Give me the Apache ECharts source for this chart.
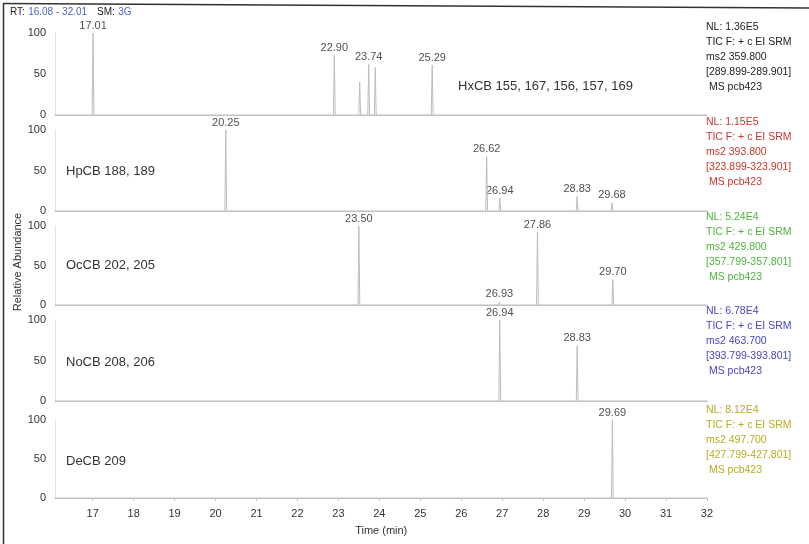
<!DOCTYPE html>
<html>
<head>
<meta charset="utf-8">
<script src="https://cdn.jsdelivr.net/npm/echarts@6/dist/echarts.min.js"></script>
<style>html,body{margin:0;padding:0;background:#fff}#c{width:809px;height:544px}</style>
</head>
<body>
<div id="c"></div>
<script>
const xMin = 16.08, xMax = 32.01;
const xTicks = [17,18,19,20,21,22,23,24,25,26,27,28,29,30,31,32];

const times1 = [17.01, 22.90, 23.52, 23.74, 23.90, 25.29];
const heights1 = [100, 73, 40, 62, 58, 61];
const labels1 = ["17.01", "22.90", "", "23.74", "", "25.29"];

const times2 = [20.25, 26.62, 26.94, 28.83, 29.68];
const heights2 = [100, 67, 16, 18, 10];
const labels2 = ["20.25", "26.62", "26.94", "28.83", "29.68"];

const times3 = [23.50, 26.93, 27.86, 29.70];
const heights3 = [100, 4, 92, 32];
const labels3 = ["23.50", "26.93", "27.86", "29.70"];

const times4 = [26.94, 28.83];
const heights4 = [100, 68];
const labels4 = ["26.94", "28.83"];

const times5 = [29.69];
const heights5 = [100];
const labels5 = ["29.69"];

const compounds = ["HxCB 155, 167, 156, 157, 169", "HpCB 188, 189", "OcCB 202, 205", "NoCB 208, 206", "DeCB 209"];
const nlValues = ["1.36E5", "1.15E5", "5.24E4", "6.78E4", "8.12E4"];
const ms2Values = ["359.800", "393.800", "429.800", "463.700", "497.700"];
const ranges = ["[289.899-289.901]", "[323.899-323.901]", "[357.799-357.801]", "[393.799-393.801]", "[427.799-427.801]"];
const infoColors = ["#222222", "#c8372d", "#4fb33a", "#4646c8", "#b5ad1e"];

const panels = [
  {t: times1, h: heights1, l: labels1},
  {t: times2, h: heights2, l: labels2},
  {t: times3, h: heights3, l: labels3},
  {t: times4, h: heights4, l: labels4},
  {t: times5, h: heights5, l: labels5}
];

// layout (pixels)
const gridTops = [33, 130, 226, 320, 420];
const gridBottoms = [115, 211, 305, 401, 498];
const gridLeft = 55, gridRight = 101.6;

const halfW = 0.022;
function buildLine(p) {
  const d = [[xMin, 0]];
  const idx = p.t.map((v, i) => i).sort((a, b) => p.t[a] - p.t[b]);
  idx.forEach(i => {
    d.push([p.t[i] - halfW, 0]);
    d.push([p.t[i], p.h[i]]);
    d.push([p.t[i] + halfW, 0]);
  });
  d.push([xMax, 0]);
  return d;
}

const grid = [], xAxis = [], yAxis = [], series = [];
panels.forEach((p, k) => {
  grid.push({left: gridLeft, right: gridRight, top: gridTops[k], height: gridBottoms[k] - gridTops[k]});
  const last = k === panels.length - 1;
  xAxis.push({
    type: 'value', gridIndex: k, min: xMin, max: xMax,
    axisLine: {show: true, onZero: false, lineStyle: {color: '#c4c4c4', width: 1}},
    axisTick: {show: last, customValues: xTicks, length: 3, lineStyle: {color: '#c4c4c4'}},
    minorTick: {show: false},
    splitLine: {show: false},
    axisLabel: {show: last, customValues: xTicks, color: '#333', fontSize: 11, fontFamily: 'Liberation Sans, Arial', margin: 10},
    name: last ? 'Time (min)' : '', nameLocation: 'middle', nameGap: 27,
    nameTextStyle: {color: '#333', fontSize: 11, fontFamily: 'Liberation Sans, Arial'}
  });
  yAxis.push({
    type: 'value', gridIndex: k, min: 0, max: 100, interval: 50,
    axisLine: {show: true, lineStyle: {color: '#e2e2e2'}},
    axisTick: {show: false}, splitLine: {show: false},
    axisLabel: {color: '#333', fontSize: 11, fontFamily: 'Liberation Sans, Arial', margin: 9}
  });
  series.push({
    type: 'line', xAxisIndex: k, yAxisIndex: k, data: buildLine(p),
    symbol: 'none', lineStyle: {color: '#bdbdbd', width: 1}, silent: true, animation: false
  });
  series.push({
    type: 'scatter', xAxisIndex: k, yAxisIndex: k,
    data: p.t.map((t, i) => ({value: [t, p.h[i]], name: p.l[i]})).filter(o => o.name),
    symbolSize: 0,
    label: {show: true, position: 'top', distance: 2, formatter: o => o.name,
      color: '#222', fontSize: 11, fontFamily: 'Liberation Sans, Arial'},
    silent: true, animation: false
  });
});

const graphic = [];
// frame
graphic.push({type: 'line', shape: {x1: 3, y1: 3.5, x2: 809, y2: 8}, style: {stroke: '#333', lineWidth: 1.5}});
graphic.push({type: 'line', shape: {x1: 3.5, y1: 3, x2: 3.5, y2: 544}, style: {stroke: '#333', lineWidth: 1.5}});
// header
graphic.push({type: 'text', left: 10, top: 6, style: {
  text: '{k|RT:} {v|16.08 - 32.01}   {k|SM:} {v|3G}',
  rich: {k: {fill: '#222', fontSize: 10, fontFamily: 'Liberation Sans, Arial'}, v: {fill: '#5560d0', fontSize: 10, fontFamily: 'Liberation Sans, Arial'}}
}});
// y axis title
graphic.push({type: 'text', x: 18, y: 262, rotation: Math.PI / 2, style: {
  text: 'Relative Abundance', fill: '#333', fontSize: 11, fontFamily: 'Liberation Sans, Arial', align: 'center', verticalAlign: 'middle'
}});
// compound names
const namePos = [[458, 86], [66, 171], [66, 265], [66, 362], [66, 461]];
compounds.forEach((c, k) => {
  graphic.push({type: 'text', x: namePos[k][0], y: namePos[k][1], style: {
    text: c, fill: '#333', fontSize: 13, fontFamily: 'Liberation Sans, Arial', verticalAlign: 'middle'
  }});
});
// info blocks
const infoTops = [20, 115, 210, 304, 403];
nlValues.forEach((nl, k) => {
  graphic.push({type: 'text', x: 706, y: infoTops[k], style: {
    text: 'NL: ' + nl + '\nTIC F: + c EI SRM\nms2 ' + ms2Values[k] + '\n' + ranges[k] + '\n MS pcb423',
    fill: infoColors[k], fontSize: 10.5, lineHeight: 15, fontFamily: 'Liberation Sans, Arial'
  }});
});

const chart = echarts.init(document.getElementById('c'), null, {renderer: 'canvas'});
chart.setOption({animation: false, backgroundColor: '#fff', grid, xAxis, yAxis, series, graphic});
</script>
</body>
</html>
